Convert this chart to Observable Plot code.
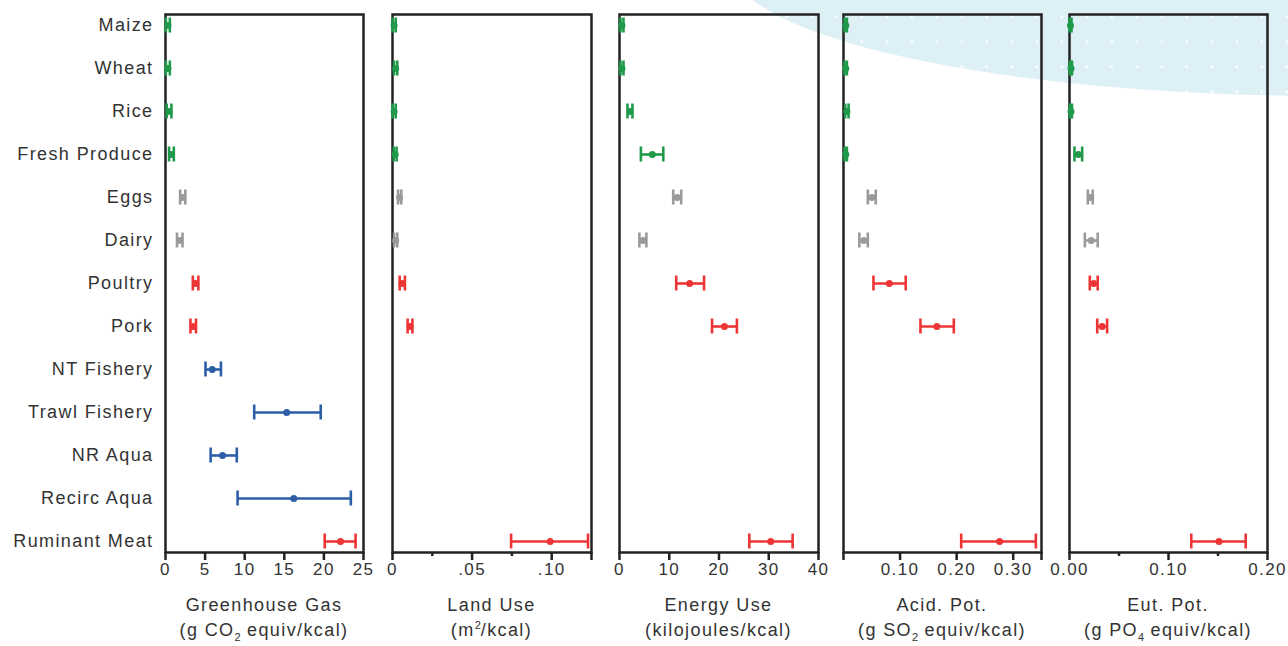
<!DOCTYPE html>
<html><head><meta charset="utf-8">
<script src="https://cdn.jsdelivr.net/npm/d3@7"></script>
<script src="https://cdn.jsdelivr.net/npm/@observablehq/plot@0.6"></script>
<style>
body{margin:0;background:#fff;font-family:"Liberation Sans",Arial,sans-serif;}
#wrap{position:relative;width:1288px;height:646px;overflow:hidden;background:#fff}
#blob{position:absolute;left:730px;top:-168px;width:1200px;height:264px;border-radius:50%;background-color:#dcf0f6;background-image:radial-gradient(circle, rgba(255,255,255,0.95) 1px, rgba(255,255,255,0) 1.7px);background-size:25px 25px;background-position:-5.8px -2.8px;}
.panel{position:absolute;top:0}
.title{position:absolute;width:260px;text-align:center;color:#333;font-size:18px;letter-spacing:1.4px;line-height:25px;white-space:nowrap;top:593px}
.title sub,.title sup{font-size:11px;line-height:0;letter-spacing:0}
</style></head>
<body><div id="wrap"><div id="blob"></div></div>
<script>
const categories = ["Maize","Wheat","Rice","Fresh Produce","Eggs","Dairy","Poultry","Pork","NT Fishery","Trawl Fishery","NR Aqua","Recirc Aqua","Ruminant Meat"];
const groups = ["crop","crop","crop","crop","animal","animal","meat","meat","fish","fish","fish","fish","meat"];
const groupColors = {crop:"#1f9a4a", animal:"#9a9a9a", meat:"#ee3535", fish:"#2c5ea8"};

const ghgMean = [0.3, 0.3, 0.45, 0.75, 2.15, 1.8, 3.8, 3.5, 5.9, 15.3, 7.2, 16.2, 22.1];
const ghgLow  = [0.05, 0.05, 0.15, 0.45, 1.85, 1.45, 3.45, 3.15, 5.05, 11.2, 5.7, 9.1, 20.1];
const ghgHigh = [0.55, 0.55, 0.75, 1.05, 2.5, 2.15, 4.15, 3.85, 7.0, 19.6, 9.0, 23.4, 24.0];

const landMean = [0.001, 0.002, 0.001, 0.0017, 0.0045, 0.002, 0.006, 0.011, null, null, null, null, 0.099];
const landLow  = [0.0, 0.001, 0.0, 0.0008, 0.0035, 0.001, 0.0045, 0.0095, null, null, null, null, 0.0745];
const landHigh = [0.002, 0.003, 0.002, 0.0026, 0.0055, 0.003, 0.0078, 0.0125, null, null, null, null, 0.1228];

const energyMean = [0.5, 0.5, 2.1, 6.6, 11.6, 4.7, 14.1, 21.1, null, null, null, null, 30.4];
const energyLow  = [0.2, 0.2, 1.6, 4.3, 10.8, 4.0, 11.4, 18.6, null, null, null, null, 26.1];
const energyHigh = [0.8, 0.8, 2.6, 8.8, 12.4, 5.4, 17.0, 23.6, null, null, null, null, 34.8];

const acidMean = [0.004, 0.004, 0.006, 0.004, 0.05, 0.036, 0.081, 0.165, null, null, null, null, 0.276];
const acidLow  = [0.002, 0.002, 0.003, 0.002, 0.043, 0.028, 0.053, 0.136, null, null, null, null, 0.208];
const acidHigh = [0.006, 0.006, 0.009, 0.006, 0.057, 0.043, 0.11, 0.195, null, null, null, null, 0.34];

const eutMean = [0.001, 0.0015, 0.0015, 0.009, 0.021, 0.022, 0.0245, 0.033, null, null, null, null, 0.151];
const eutLow  = [0.0, 0.0005, 0.0005, 0.005, 0.0185, 0.0155, 0.0205, 0.028, null, null, null, null, 0.123];
const eutHigh = [0.002, 0.0025, 0.0025, 0.0128, 0.0235, 0.0285, 0.0285, 0.038, null, null, null, null, 0.178];

const ghgTicks = [0, 5, 10, 15, 20, 25];
const ghgTickLabels = ["0", "5", "10", "15", "20", "25"];
const landTicks = [0, 0.05, 0.10, 0.125];
const landTickLabels = ["0", ".05", ".10", ""];
const landMinor = [0.025, 0.075];
const energyTicks = [0, 10, 20, 30, 40];
const energyTickLabels = ["0", "10", "20", "30", "40"];
const acidTicks = [0, 0.10, 0.20, 0.30, 0.35];
const acidTickLabels = ["", "0.10", "0.20", "0.30", ""];
const eutTicks = [0, 0.10, 0.20];
const eutTickLabels = ["0.00", "0.10", "0.20"];
const eutMinor = [0.05, 0.15];

const titles = [
  ["Greenhouse Gas", "(g CO<sub>2</sub> equiv/kcal)"],
  ["Land Use", "(m<sup>2</sup>/kcal)"],
  ["Energy Use", "(kilojoules/kcal)"],
  ["Acid. Pot.", "(g SO<sub>2</sub> equiv/kcal)"],
  ["Eut. Pot.", "(g PO<sub>4</sub> equiv/kcal)"]
];

const panels = [
  {mean: ghgMean, low: ghgLow, high: ghgHigh, domain: [0, 25], major: ghgTicks, labels: ghgTickLabels, minor: [], x0: 165, x1: 363, first: true},
  {mean: landMean, low: landLow, high: landHigh, domain: [0, 0.125], major: landTicks, labels: landTickLabels, minor: landMinor, x0: 392, x1: 591},
  {mean: energyMean, low: energyLow, high: energyHigh, domain: [0, 40], major: energyTicks, labels: energyTickLabels, minor: [], x0: 619, x1: 818},
  {mean: acidMean, low: acidLow, high: acidHigh, domain: [0, 0.35], major: acidTicks, labels: acidTickLabels, minor: [], x0: 843, x1: 1041},
  {mean: eutMean, low: eutLow, high: eutHigh, domain: [0, 0.20], major: eutTicks, labels: eutTickLabels, minor: eutMinor, x0: 1069, x1: 1267}
];

const wrap = document.getElementById("wrap");

panels.forEach((p, k) => {
  const ml = p.first ? p.x0 : 14, mr = 16;
  const rows = categories.map((c, i) => ({cat: c, color: groupColors[groups[i]], mean: p.mean[i], low: p.low[i], high: p.high[i]}))
    .filter(d => d.mean != null);
  const fmt = new Map(p.major.map((v, i) => [v, p.labels[i]]));
  const marks = [
    Plot.frame({stroke: "#222", strokeWidth: 2.5}),
    Plot.axisX(p.major, {tickSize: 8, strokeWidth: 2.5, tickPadding: 2, fontSize: 17, stroke: "#222", tickFormat: d => fmt.get(d), label: null}),
  ];
  if (p.minor.length) marks.push(Plot.axisX(p.minor, {tickSize: 4, strokeWidth: 2.5, stroke: "#222", tickFormat: () => "", label: null}));
  if (p.first) marks.push(Plot.axisY({tickSize: 0, tickPadding: 12, fontSize: 18, label: null}));
  marks.push(
    Plot.ruleY(rows, {y: "cat", x1: "low", x2: "high", stroke: "color", strokeWidth: 2.6}),
    Plot.tickX(rows, {x: "low", y: "cat", stroke: "color", strokeWidth: 2.6, inset: 3.5}),
    Plot.tickX(rows, {x: "high", y: "cat", stroke: "color", strokeWidth: 2.6, inset: 3.5}),
    Plot.dot(rows, {x: "mean", y: "cat", fill: "color", r: 3.5})
  );
  const chart = Plot.plot({
    width: ml + (p.x1 - p.x0) + mr,
    height: 590,
    marginLeft: ml, marginRight: mr, marginTop: 14, marginBottom: 38,
    style: {background: "transparent", overflow: "visible", fontFamily: "'Liberation Sans', Arial, sans-serif", color: "#333", letterSpacing: "1.4px"},
    x: {domain: p.domain, label: null},
    y: {type: "band", domain: categories, paddingInner: 0.5, paddingOuter: 0, axis: p.first ? undefined : null, label: null},
    color: {type: "identity"},
    marks
  });
  const holder = document.createElement("div");
  holder.className = "panel";
  holder.style.left = (p.x0 - ml) + "px";
  holder.appendChild(chart);
  wrap.appendChild(holder);

  const t = document.createElement("div");
  t.className = "title";
  t.style.left = ((p.x0 + p.x1) / 2 - 130) + "px";
  t.innerHTML = titles[k][0] + "<br>" + titles[k][1];
  wrap.appendChild(t);
});
</script>
</body></html>
